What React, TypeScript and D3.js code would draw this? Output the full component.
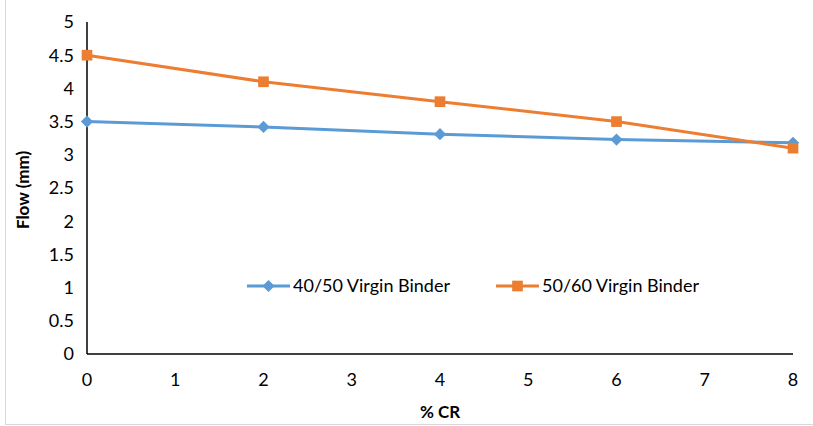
import * as React from 'react';
import * as d3 from 'd3';

const crValues = [0, 2, 4, 6, 8];
const binder4050 = [3.5, 3.42, 3.31, 3.23, 3.18];
const binder5060 = [4.5, 4.1, 3.8, 3.5, 3.1];
const xTicks = [0, 1, 2, 3, 4, 5, 6, 7, 8];
const yTicks = [0, 0.5, 1, 1.5, 2, 2.5, 3, 3.5, 4, 4.5, 5];
const seriesNames = ['40/50 Virgin Binder', '50/60 Virgin Binder'];

const width = 813;
const height = 426;
const margins = { top: 22, bottom: 72, left: 87, right: 20 };
const font = 'Lato, "Open Sans", sans-serif';
const blue = '#5b9bd5';
const orange = '#ed7d31';

export default function App() {
    const plotWidth = 793 - margins.left;
    const plotHeight = 354 - margins.top;

    const xScale = d3.scaleLinear().domain([0, 8]).range([0, plotWidth]);
    const yScale = d3.scaleLinear().domain([0, 5]).range([plotHeight, 0]);

    const line = d3.line<number>()
        .x((d, i) => xScale(crValues[i]))
        .y(d => yScale(d));

    const diamond = d3.symbol().type(d3.symbolDiamond2).size(95)() as string;
    const square = d3.symbol().type(d3.symbolSquare2).size(145)() as string;

    const series = [
        { name: seriesNames[0], values: binder4050, color: blue, marker: diamond },
        { name: seriesNames[1], values: binder5060, color: orange, marker: square },
    ];

    return <svg width={width} height={height}
        style={{ position: 'absolute', left: 0, top: 0, background: '#fff' }}>
        <rect x={5.5} y={-1} width={width} height={height - 0.5} fill="none" stroke="#d9d9d9" />
        <g transform={`translate(${margins.left},${margins.top})`}>
            {yTicks.map(t =>
                <text key={t} x={-13} y={yScale(t)} dy="0.35em" textAnchor="end"
                    fontFamily={font} fontSize={18} fill="#000">{t}</text>)}
            {xTicks.map(t =>
                <text key={t} x={xScale(t)} y={plotHeight + 32} textAnchor="middle"
                    fontFamily={font} fontSize={18} fill="#000">{t}</text>)}
            <line x1={0} x2={0} y1={0} y2={plotHeight} stroke="#000" strokeWidth={1.5} />
            <line x1={0} x2={plotWidth} y1={plotHeight} y2={plotHeight} stroke="#000" strokeWidth={1.5} />
            {series.map(s =>
                <g key={s.name}>
                    <path d={line(s.values) || ''} fill="none" stroke={s.color} strokeWidth={3} />
                    {s.values.map((v, i) =>
                        <path key={i} d={s.marker} fill={s.color}
                            transform={`translate(${xScale(crValues[i])},${yScale(v)})`} />)}
                </g>)}
        </g>
        <text x={440} y={418} textAnchor="middle" fontFamily={font} fontSize={17}
            fontWeight="bold">% CR</text>
        <text transform="translate(29,190) rotate(-90)" textAnchor="middle" fontFamily={font}
            fontSize={17} fontWeight="bold">Flow (mm)</text>
        {series.map((s, i) => {
            const lx = i === 0 ? 247 : 496;
            return <g key={s.name} transform={`translate(${lx},286)`}>
                <line x1={0} x2={43} y1={0} y2={0} stroke={s.color} strokeWidth={3} />
                <path d={s.marker} fill={s.color} transform="translate(21.5,0)" />
                <text x={46} y={0} dy="0.35em" fontFamily={font} fontSize={18}>{s.name}</text>
            </g>;
        })}
    </svg>;
}
